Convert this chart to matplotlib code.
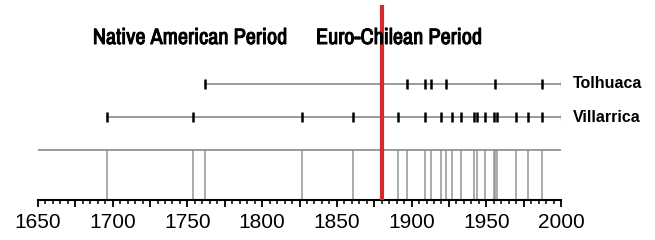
import matplotlib
matplotlib.use("Agg")
import matplotlib.pyplot as plt
import matplotlib.patheffects as pe
from matplotlib.ticker import MultipleLocator, FuncFormatter

plt.rcParams["font.family"] = ["Liberation Sans", "DejaVu Sans"]

# eruption years
tolhuaca = [1762, 1897, 1909, 1913, 1923, 1956, 1987]
villarrica = [1696, 1754, 1827, 1861, 1891, 1909, 1920, 1927, 1933,
              1942, 1944, 1949, 1955, 1957, 1970, 1978, 1987]
boundary_year = 1880
period_labels = ["Native American Period", "Euro-Chilean Period"]
volcano_names = ["Tolhuaca", "Villarrica"]

x_start, x_end = 1650, 2000

fig = plt.figure(figsize=(6.55, 2.4), dpi=100)
ax = fig.add_axes([38 / 655, 40 / 240, 523 / 655, 195 / 240])
ax.set_xlim(x_start, x_end)
ax.set_ylim(0, 195)

gray = "#8a8a8a"
narrow = ["Archivo Narrow", "Liberation Sans", "DejaVu Sans"]
# the narrow face only comes in regular here, so thicken it a bit
heavy = [pe.withStroke(linewidth=0.7, foreground="black")]

# timeline rows
rows = [(tolhuaca, 116), (villarrica, 83)]
for (years, y), name in zip(rows, volcano_names):
    ax.plot([min(years), x_end], [y, y], color=gray, lw=1.2, zorder=1)
    ax.vlines(years, y - 5, y + 5, color="black", lw=1.8, zorder=2)
    ax.vlines([x_end], y - 3, y + 3, color=gray, lw=1, zorder=2)
    ax.text(2008, y, name, ha="left", va="center", fontsize=11.5,
            fontweight="bold", clip_on=False)

# combined record at the bottom
all_years = sorted(set(tolhuaca) | set(villarrica))
ax.plot([x_start, x_end], [50, 50], color=gray, lw=1.2, zorder=1)
ax.vlines(all_years, 0, 50, color=gray, lw=1.1, alpha=0.9, zorder=1)

# period boundary
ax.plot([boundary_year, boundary_year], [0, 195], color="#d42a2a", lw=3,
        zorder=3, solid_capstyle="butt")
ax.text(1817, 162, period_labels[0], ha="right", va="center",
        fontsize=16, fontweight="bold", family=narrow, path_effects=heavy)
ax.text(1836, 162, period_labels[1], ha="left", va="center",
        fontsize=16, fontweight="bold", family=narrow, path_effects=heavy)

for side in ["top", "right", "left"]:
    ax.spines[side].set_visible(False)
ax.spines["bottom"].set_linewidth(1.5)
ax.set_yticks([])
ax.xaxis.set_major_locator(MultipleLocator(25))
ax.xaxis.set_minor_locator(MultipleLocator(5))
ax.xaxis.set_major_formatter(
    FuncFormatter(lambda v, p: f"{int(v)}" if int(v) % 50 == 0 else ""))
ax.tick_params(axis="x", which="major", length=5, width=1.3,
               labelsize=15, pad=4)
ax.tick_params(axis="x", which="minor", length=3, width=1.1)

fig.savefig("out.png", dpi=100)
